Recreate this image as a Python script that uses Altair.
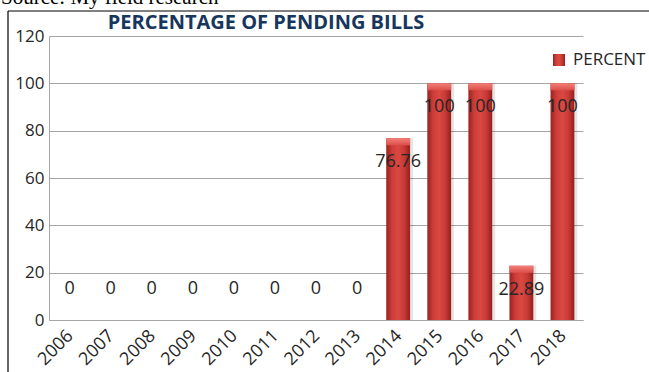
import altair as alt
import pandas as pd

# Share of bills still pending, by year
years = ["2006", "2007", "2008", "2009", "2010", "2011", "2012",
         "2013", "2014", "2015", "2016", "2017", "2018"]
percent = [0, 0, 0, 0, 0, 0, 0, 0, 76.76, 100, 100, 22.89, 100]
y_ticks = [0, 20, 40, 60, 80, 100, 120]

df = pd.DataFrame({"year": years, "percent": percent})
df["label"] = [f"{v:g}" for v in percent]
one = pd.DataFrame({"k": [0]})  # single row for decorations

FONT = "Open Sans"
TEXT = "#262626"
GRID = "#A6A6A6"

# cylinder-like shading across each bar
bar_fill = alt.LinearGradient(
    gradient="linear", x1=0, x2=1, y1=0, y2=0,
    stops=[
        alt.GradientStop(color="#9A2220", offset=0),
        alt.GradientStop(color="#CD3D39", offset=0.25),
        alt.GradientStop(color="#DA4842", offset=0.5),
        alt.GradientStop(color="#C93A36", offset=0.75),
        alt.GradientStop(color="#961F1D", offset=1),
    ],
)
bevel_fill = alt.LinearGradient(
    gradient="linear", x1=0, x2=0, y1=0, y2=1,
    stops=[
        alt.GradientStop(color="#F3807A", offset=0),
        alt.GradientStop(color="#DC4D47", offset=1),
    ],
)

x_enc = alt.X(
    "year:N", sort=years, title=None,
    scale=alt.Scale(paddingInner=0.42, paddingOuter=0.21),
    axis=alt.Axis(labelAngle=-45, labelAlign="right", labelBaseline="middle",
                  labelOffset=1, labelPadding=13, ticks=False,
                  labelFont=FONT, labelFontSize=18, labelColor=TEXT,
                  domainColor=GRID, grid=False),
)
y_enc = alt.Y(
    "percent:Q", title=None,
    scale=alt.Scale(domain=[0, 120], nice=False),
    axis=alt.Axis(values=y_ticks, ticks=False, labelPadding=5,
                  labelFont=FONT, labelFontSize=17, labelColor=TEXT,
                  domainColor=GRID, gridColor=GRID, gridWidth=1),
)

base = alt.Chart(df)

# soft shadow to the right of each bar
shadow = base.transform_filter("datum.percent > 0").mark_bar(
    color="#000000", opacity=0.10, xOffset=3
).encode(x=x_enc, y=y_enc)

bars = base.mark_bar(color=bar_fill).encode(x=x_enc, y=y_enc)

bevel = base.transform_filter("datum.percent > 0").mark_bar(
    color=bevel_fill, y2Offset=7
).encode(x=x_enc, y=y_enc, y2=alt.Y2("percent:Q"))

labels_in = base.transform_filter("datum.percent > 0").mark_text(
    font=FONT, fontSize=18, color=TEXT, baseline="middle", dy=24
).encode(x=x_enc, y=y_enc, text="label:N")

labels_zero = base.transform_filter("datum.percent == 0").mark_text(
    font=FONT, fontSize=18, color=TEXT, baseline="middle", dy=-31
).encode(x=x_enc, y=y_enc, text="label:N")

title = alt.Chart(one).mark_text(
    text="PERCENTAGE OF PENDING BILLS", font=FONT, fontSize=20,
    fontWeight="bold", color="#17365D", align="center", baseline="middle"
).encode(x=alt.value(217), y=alt.value(-13))

source = alt.Chart(one).mark_text(
    text="Source: My field research", font="Liberation Serif", fontSize=21,
    color="#000000", align="left", baseline="alphabetic"
).encode(x=alt.value(-48), y=alt.value(-32))

# outer frame: top and left edges (the rest runs past the page)
frame_top = alt.Chart(one).mark_rule(color="#000000", strokeWidth=1.2).encode(
    x=alt.value(-41), x2=alt.value(620), y=alt.value(-25)
)
frame_left = alt.Chart(one).mark_rule(color="#000000", strokeWidth=1.2).encode(
    x=alt.value(-41), y=alt.value(-25), y2=alt.value(340)
)

legend_key = alt.Chart(one).mark_rect(color=bar_fill).encode(
    x=alt.value(504), x2=alt.value(516), y=alt.value(18), y2=alt.value(30)
)
legend_text = alt.Chart(one).mark_text(
    text="PERCENT", font=FONT, fontSize=17, color=TEXT,
    align="left", baseline="middle"
).encode(x=alt.value(524), y=alt.value(24))

chart = alt.layer(
    frame_top, frame_left, shadow, bars, bevel, labels_in, labels_zero,
    title, source, legend_key, legend_text
).properties(
    width=534, height=284,
    autosize=alt.AutoSizeParams(type="none"),
    padding={"left": 49, "top": 36, "right": 66, "bottom": 52},
).configure_view(stroke=None)

chart.save("out.html", embed_options={"renderer": "svg", "actions": False})
